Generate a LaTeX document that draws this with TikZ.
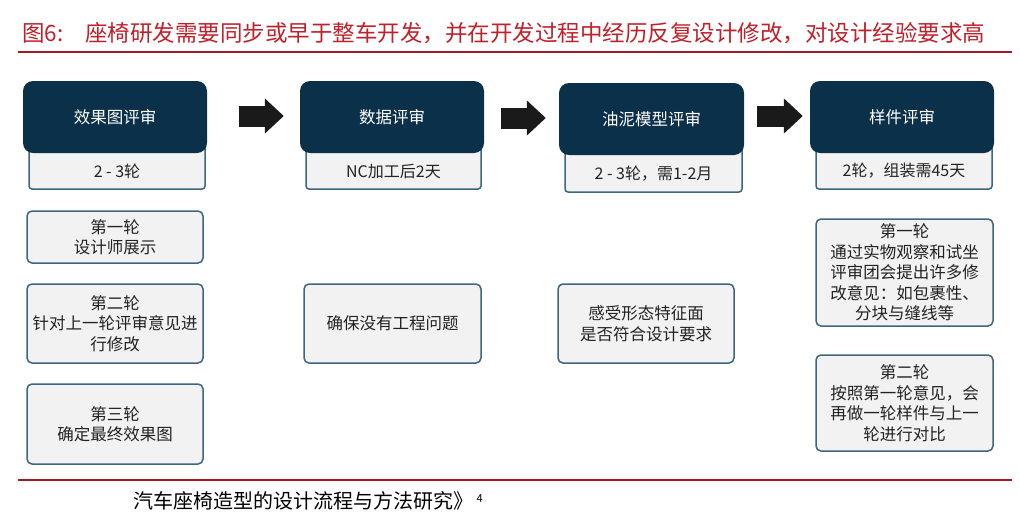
\documentclass[tikz,border=0pt]{standalone}
\usepackage{fontspec}
\setmainfont{Noto Sans CJK SC}
\usetikzlibrary{arrows.meta,calc}
\definecolor{navy}{HTML}{0B3049}
\definecolor{edge}{HTML}{3D6680}
\definecolor{boxfill}{HTML}{F2F2F2}
\definecolor{titlered}{HTML}{C0202A}
\definecolor{rulered}{HTML}{A31822}
\definecolor{arrowblack}{HTML}{1A1A1A}
\definecolor{textdark}{HTML}{222222}
\begin{document}
\begin{tikzpicture}[x=1pt,y=-1pt,
  headbox/.style={draw=none, fill=navy, rounded corners=10pt, minimum width=184pt, minimum height=72pt, text=white, font=\fontsize{16.5}{20}\selectfont, inner sep=0pt},
  subbox/.style={draw=edge, line width=1.5pt, fill=boxfill, rounded corners=3pt, minimum height=50pt, inner sep=0pt},
  subtext/.style={font=\fontsize{16}{20}\selectfont, text=textdark, inner sep=0pt},
  notebox/.style={draw=edge, line width=1.5pt, fill=boxfill, rounded corners=5pt, align=center, font=\fontsize{16.5}{20.5}\selectfont, text=textdark, inner sep=0pt},
  flow/.style={line width=21pt, draw=arrowblack, -{Triangle[length=19pt,width=34pt]}},
  rule/.style={draw=rulered, line width=2pt},
]
\useasboundingbox (0,0) rectangle (1020,525);
\fill[white] (0,0) rectangle (1020,525);

% title
\node[anchor=west, text=titlered, font=\fontsize{22.5}{26}\selectfont, inner sep=0pt] (t0) at (22,33) {图6:};
\node[anchor=west, text=titlered, font=\fontsize{22.5}{26}\selectfont, inner sep=0pt] (t1) at (85,33) {座椅研发需要同步或早于整车开发，并在开发过程中经历反复设计修改，对设计经验要求高};
\coordinate (r1a) at (18,52);
\coordinate (r1b) at (1012,52);
\draw[rule] (r1a) -- (r1b);

% sub boxes
\node[subbox, minimum width=176pt] (s1) at (117,164) {};
\node[subbox, minimum width=175pt] (s2) at (393.5,164) {};
\node[subbox, minimum width=177pt] (s3) at (653.5,167) {};
\node[subbox, minimum width=176pt] (s4) at (904,164) {};
\node[subtext] (st1) at (117,171) {2 - 3轮};
\node[subtext] (st2) at (393.5,171) {NC加工后2天};
\node[subtext] (st3) at (653.5,174) {2 - 3轮，需1-2月};
\node[subtext] (st4) at (904,171) {2轮，组装需45天};

% head boxes
\node[headbox] (b1) at (115,117) {效果图评审};
\node[headbox] (b2) at (392,117) {数据评审};
\node[headbox, minimum width=185pt] (b3) at (651.5,119) {油泥模型评审};
\node[headbox] (b4) at (902,117) {样件评审};

% arrows
\draw[flow] ($(b1.east)+(32,-1)$) -- ($(b2.west)+(-16,-1)$);
\draw[flow] ($(b2.east)+(17,1)$) -- ($(b3.west)+(-13,-1)$);
\draw[flow] ($(b3.east)+(13,-3)$) -- ($(b4.west)+(-7,-1)$);

% note boxes
\node[notebox, minimum width=176pt, minimum height=52pt] (n1) at (115,237) {第一轮\\设计师展示};
\node[notebox, minimum width=176pt, minimum height=79pt] (n2) at (115,323.5) {第二轮\\针对上一轮评审意见进\\行修改};
\node[notebox, minimum width=176pt, minimum height=80pt] (n3) at (115,424) {第三轮\\确定最终效果图};
\node[notebox, minimum width=177pt, minimum height=79pt] (n4) at (392.5,323.5) {确保没有工程问题};
\node[notebox, minimum width=176pt, minimum height=79pt] (n5) at (646,323.5) {感受形态特征面\\是否符合设计要求};
\node[notebox, minimum width=177pt, minimum height=107pt] (n6) at (904.5,272.5) {第一轮\\通过实物观察和试坐\\评审团会提出许多修\\改意见：如包裹性、\\分块与缝线等};
\node[notebox, minimum width=177pt, minimum height=96pt] (n7) at (904.5,403) {第二轮\\按照第一轮意见，会\\再做一轮样件与上一\\轮进行对比};

% footer
\coordinate (r2a) at (18,480);
\coordinate (r2b) at (1012,480);
\draw[rule] (r2a) -- (r2b);
\node[anchor=west, text=black, font=\fontsize{20}{23}\selectfont, inner sep=0pt] (f1) at (133,501) {汽车座椅造型的设计流程与方法研究》\,\raisebox{0.55ex}{\fontsize{11}{13}\selectfont 4}};
\end{tikzpicture}
\end{document}
